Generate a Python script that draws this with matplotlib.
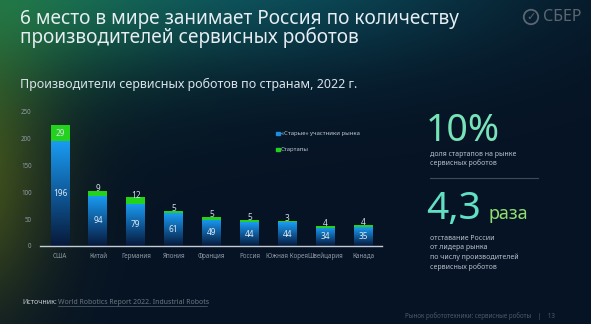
import numpy as np
import matplotlib
matplotlib.use("Agg")
import matplotlib.pyplot as plt
from matplotlib.colors import LinearSegmentedColormap

# данные
countries = ["США", "Китай", "Германия", "Япония", "Франция", "Россия",
             "Южная Корея", "Швейцария", "Канада"]
old_players = [196, 94, 79, 61, 49, 44, 44, 34, 35]
startups = [29, 9, 12, 5, 5, 5, 3, 4, 4]
y_ticks = [0, 50, 100, 150, 200, 250]

plt.rcParams["font.family"] = ["Noto Sans", "DejaVu Sans"]

W, H = 591, 324
fig = plt.figure(figsize=(W / 100, H / 100), dpi=100)

# фон слайда: тёмно-синий с зелёно-бирюзовым свечением
bg = fig.add_axes([0, 0, 1, 1])
yy, xx = np.mgrid[0:H, 0:W]
base = np.array([6, 19, 36], dtype=float)
img = np.ones((H, W, 3)) * base


def glow(cx, cy, rx, ry, color, strength):
    d = ((xx - cx) / rx) ** 2 + ((yy - cy) / ry) ** 2
    w = np.exp(-d) * strength
    return w[..., None] * (np.array(color, dtype=float) - base)


img += glow(250, -30, 260, 95, [12, 80, 95], 0.95)
img += glow(-20, -10, 180, 110, [30, 110, 55], 0.8)
img += glow(-30, 180, 80, 130, [80, 95, 25], 0.8)
img = np.clip(img, 0, 255) / 255
bg.imshow(img, extent=[0, W, H, 0], aspect="auto")
bg.set_xlim(0, W)
bg.set_ylim(H, 0)
bg.axis("off")

# заголовок
bg.text(20, 19, "6 место в мире занимает Россия по количеству",
        color="#e6eef3", fontsize=13.7, va="center", ha="left")
bg.text(20, 38, "производителей сервисных роботов",
        color="#e6eef3", fontsize=13.7, va="center", ha="left")
bg.text(20, 84, "Производители сервисных роботов по странам, 2022 г.",
        color="#d9e2ea", fontsize=9, va="center", ha="left")

# логотип
bg.text(531, 17, "✓", color="#5c6672", fontsize=8, ha="center", va="center",
        family="DejaVu Sans",
        bbox=dict(boxstyle="circle,pad=0.2", fc="none", ec="#5c6672", lw=1.3))
bg.text(543, 17, "СБЕР", color="#5c6672", fontsize=11.5, ha="left", va="center",
        fontweight="bold")

# правая панель
bg.text(426, 131, "10%", color="#78e3b8", fontsize=27, ha="left", va="center")
bg.text(430, 154, "доля стартапов на рынке", color="#b8c2cc", fontsize=5, va="center")
bg.text(430, 163, "сервисных роботов", color="#b8c2cc", fontsize=5, va="center")
bg.plot([430, 538], [178, 178], color="#3c4a5a", lw=0.8)
bg.text(426, 209, "4,3", color="#62e0c4", fontsize=28, ha="left", va="center")
bg.text(489, 214, "раза", color="#8fdf70", fontsize=13, ha="left", va="center")
for i, line in enumerate(["отставание России", "от лидера рынка",
                          "по числу производителей", "сервисных роботов"]):
    bg.text(430, 238 + i * 9.6, line, color="#b8c2cc", fontsize=5, va="center")

# подвал
bg.text(22, 302, "Источник:", color="#c8d0d8", fontsize=5, va="center")
bg.text(58, 302, "World Robotics Report 2022. Industrial Robots", color="#6a7682",
        fontsize=5, va="center")
bg.plot([58, 207], [305.5, 305.5], color="#6a7682", lw=0.4)
bg.text(555, 316, "Рынок робототехники: сервисные роботы    |    13", color="#4e5a66",
        fontsize=4.5, va="center", ha="right")

# график
ax = fig.add_axes([40 / W, (H - 246) / H, 342 / W, 134 / H])
ax.set_facecolor("none")
x = np.arange(len(countries))
bw = 0.5
blue_cmap = LinearSegmentedColormap.from_list("bl", ["#07193a", "#0f5a9a", "#1a9df4"])
bars = ax.bar(x, old_players, bw, color="none", edgecolor="none")
grad = np.linspace(0, 1, 256).reshape(-1, 1)
for b in bars:
    x0, h = b.get_x(), b.get_height()
    im = ax.imshow(grad, cmap=blue_cmap, origin="lower", aspect="auto",
                   extent=[x0, x0 + bw, 0, h], zorder=2)
    im.set_clip_path(b)
ax.bar(x, startups, bw, bottom=old_players, color="#22d21c", zorder=3)

for i in range(len(countries)):
    ax.text(x[i], old_players[i] / 2, str(old_players[i]), color="#dfe8f0",
            fontsize=6, ha="center", va="center", zorder=4)
    total = old_players[i] + startups[i]
    if startups[i] > 20:
        yl = old_players[i] + startups[i] / 2
    else:
        yl = total + 4
    ax.text(x[i], yl, str(startups[i]), color="#d4dce4", fontsize=6,
            ha="center", va="center", zorder=4)

ax.set_xlim(-0.53, 8.5)
ax.set_ylim(0, 250)
ax.set_yticks(y_ticks)
ax.set_xticks(x)
ax.set_xticklabels(countries)
ax.tick_params(axis="both", length=0, labelsize=4.5, colors="#8e99a4")
ax.tick_params(axis="y", pad=6)
ax.tick_params(axis="x", pad=5)
for s in ["top", "right", "left"]:
    ax.spines[s].set_visible(False)
ax.spines["bottom"].set_color("#c4ccd4")
ax.spines["bottom"].set_linewidth(1)

# легенда
bg.add_patch(plt.Rectangle((276, 132), 4, 3, color="#1a8ee0"))
bg.text(281, 134, "«Старые» участники рынка", color="#c0c8d0", fontsize=4.3, va="center")
bg.add_patch(plt.Rectangle((276, 147.5), 4, 3.5, color="#22d21c"))
bg.text(281, 149, "Стартапы", color="#c0c8d0", fontsize=4.3, va="center")

fig.savefig("out.png", dpi=100)
